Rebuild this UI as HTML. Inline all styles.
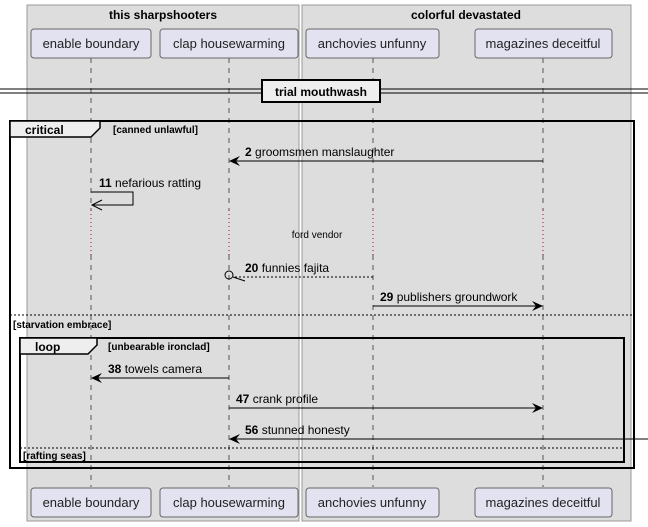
<!DOCTYPE html>
<html><head><meta charset="utf-8"><style>body{margin:0;background:#fff}svg{display:block;font-family:"Liberation Sans",sans-serif}</style></head><body>
<svg width="648" height="527" viewBox="0 0 648 527" xmlns="http://www.w3.org/2000/svg">
<rect x="27" y="5" width="272" height="516" fill="#ddd" stroke="#999" stroke-width="1"/>
<rect x="302" y="5" width="329" height="516" fill="#ddd" stroke="#999" stroke-width="1"/>
<text x="163" y="19" font-size="12" font-weight="bold" text-anchor="middle">this sharpshooters</text>
<text x="466" y="19" font-size="12" font-weight="bold" text-anchor="middle">colorful devastated</text>
<g stroke="#555" stroke-dasharray="5,5" stroke-width="1">
<line x1="91" y1="58" x2="91" y2="210"/><line x1="91" y1="255" x2="91" y2="487"/>
<line x1="229" y1="58" x2="229" y2="210"/><line x1="229" y1="255" x2="229" y2="487"/>
<line x1="373" y1="58" x2="373" y2="210"/><line x1="373" y1="255" x2="373" y2="487"/>
<line x1="543" y1="58" x2="543" y2="210"/><line x1="543" y1="255" x2="543" y2="487"/>
</g>
<g stroke="#c00030" stroke-dasharray="1,3" stroke-width="1">
<line x1="91" y1="210" x2="91" y2="255"/><line x1="229" y1="210" x2="229" y2="255"/>
<line x1="373" y1="210" x2="373" y2="255"/><line x1="543" y1="210" x2="543" y2="255"/>
</g>
<g fill="#e2e2f0" stroke="#666" stroke-width="1">
<rect x="31" y="29" width="120" height="29" rx="3"/><rect x="160" y="29" width="138" height="29" rx="3"/>
<rect x="306" y="29" width="133" height="29" rx="3"/><rect x="475" y="29" width="137" height="29" rx="3"/>
<rect x="31" y="488" width="120" height="29" rx="3"/><rect x="160" y="488" width="138" height="29" rx="3"/>
<rect x="306" y="488" width="133" height="29" rx="3"/><rect x="475" y="488" width="137" height="29" rx="3"/>
</g>
<g font-size="13" text-anchor="middle" fill="#222">
<text x="91" y="48">enable boundary</text><text x="229" y="48">clap housewarming</text>
<text x="372" y="48">anchovies unfunny</text><text x="543" y="48">magazines deceitful</text>
<text x="91" y="507">enable boundary</text><text x="229" y="507">clap housewarming</text>
<text x="372" y="507">anchovies unfunny</text><text x="543" y="507">magazines deceitful</text>
</g>
<line x1="0" y1="89" x2="648" y2="89" stroke="#000"/><line x1="0" y1="93" x2="648" y2="93" stroke="#000"/>
<rect x="262" y="80" width="118" height="22" fill="#eee" stroke="#000" stroke-width="2"/>
<text x="321" y="96" font-size="12" font-weight="bold" text-anchor="middle">trial mouthwash</text>
<rect x="10" y="121" width="624" height="347" fill="none" stroke="#000" stroke-width="2"/>
<path d="M10 121 H100 V128 L91 137 H10 Z" fill="#eee" stroke="#000" stroke-width="1.5"/>
<text x="25" y="134" font-size="12" font-weight="bold">critical</text>
<text x="113" y="133" font-size="10" font-weight="bold">[canned unlawful]</text>
<line x1="543" y1="161" x2="231" y2="161" stroke="#000"/><path d="M229 161 L240 156 L236 161 L240 166 Z" fill="#000"/>
<text x="245" y="156" font-size="12"><tspan font-weight="bold">2</tspan> groomsmen manslaughter</text>
<path d="M91 192 H133 V205 H92" fill="none" stroke="#000"/><path d="M102 200 L92 205 L102 210" fill="none" stroke="#000"/>
<text x="99" y="187" font-size="12"><tspan font-weight="bold">11</tspan> nefarious ratting</text>
<text x="317" y="238" font-size="10" text-anchor="middle">ford vendor</text>
<line x1="373" y1="277" x2="233" y2="277" stroke="#000" stroke-dasharray="2,2"/>
<circle cx="229" cy="275" r="4" fill="none" stroke="#000"/><line x1="233" y1="277" x2="245" y2="281" stroke="#000"/>
<text x="245" y="272" font-size="12"><tspan font-weight="bold">20</tspan> funnies fajita</text>
<line x1="373" y1="306" x2="541" y2="306" stroke="#000"/><path d="M543 306 L532 301 L536 306 L532 311 Z" fill="#000"/>
<text x="380" y="301" font-size="12"><tspan font-weight="bold">29</tspan> publishers groundwork</text>
<line x1="10" y1="315" x2="634" y2="315" stroke="#000" stroke-dasharray="2,2"/>
<text x="13" y="328" font-size="10" font-weight="bold">[starvation embrace]</text>
<rect x="20" y="338" width="604" height="124" fill="none" stroke="#000" stroke-width="2"/>
<path d="M20 338 H97 V345 L88 354 H20 Z" fill="#eee" stroke="#000" stroke-width="1.5"/>
<text x="35" y="351" font-size="12" font-weight="bold">loop</text>
<text x="108" y="350" font-size="10" font-weight="bold">[unbearable ironclad]</text>
<line x1="229" y1="378" x2="93" y2="378" stroke="#000"/><path d="M91 378 L102 373 L98 378 L102 383 Z" fill="#000"/>
<text x="108" y="373" font-size="12"><tspan font-weight="bold">38</tspan> towels camera</text>
<line x1="229" y1="408" x2="541" y2="408" stroke="#000"/><path d="M543 408 L532 403 L536 408 L532 413 Z" fill="#000"/>
<text x="236" y="403" font-size="12"><tspan font-weight="bold">47</tspan> crank profile</text>
<line x1="648" y1="439" x2="231" y2="439" stroke="#000"/><path d="M229 439 L240 434 L236 439 L240 444 Z" fill="#000"/>
<text x="245" y="434" font-size="12"><tspan font-weight="bold">56</tspan> stunned honesty</text>
<line x1="20" y1="448" x2="624" y2="448" stroke="#000" stroke-dasharray="2,2"/>
<text x="23" y="459" font-size="10" font-weight="bold">[rafting seas]</text>
</svg>
</body></html>
